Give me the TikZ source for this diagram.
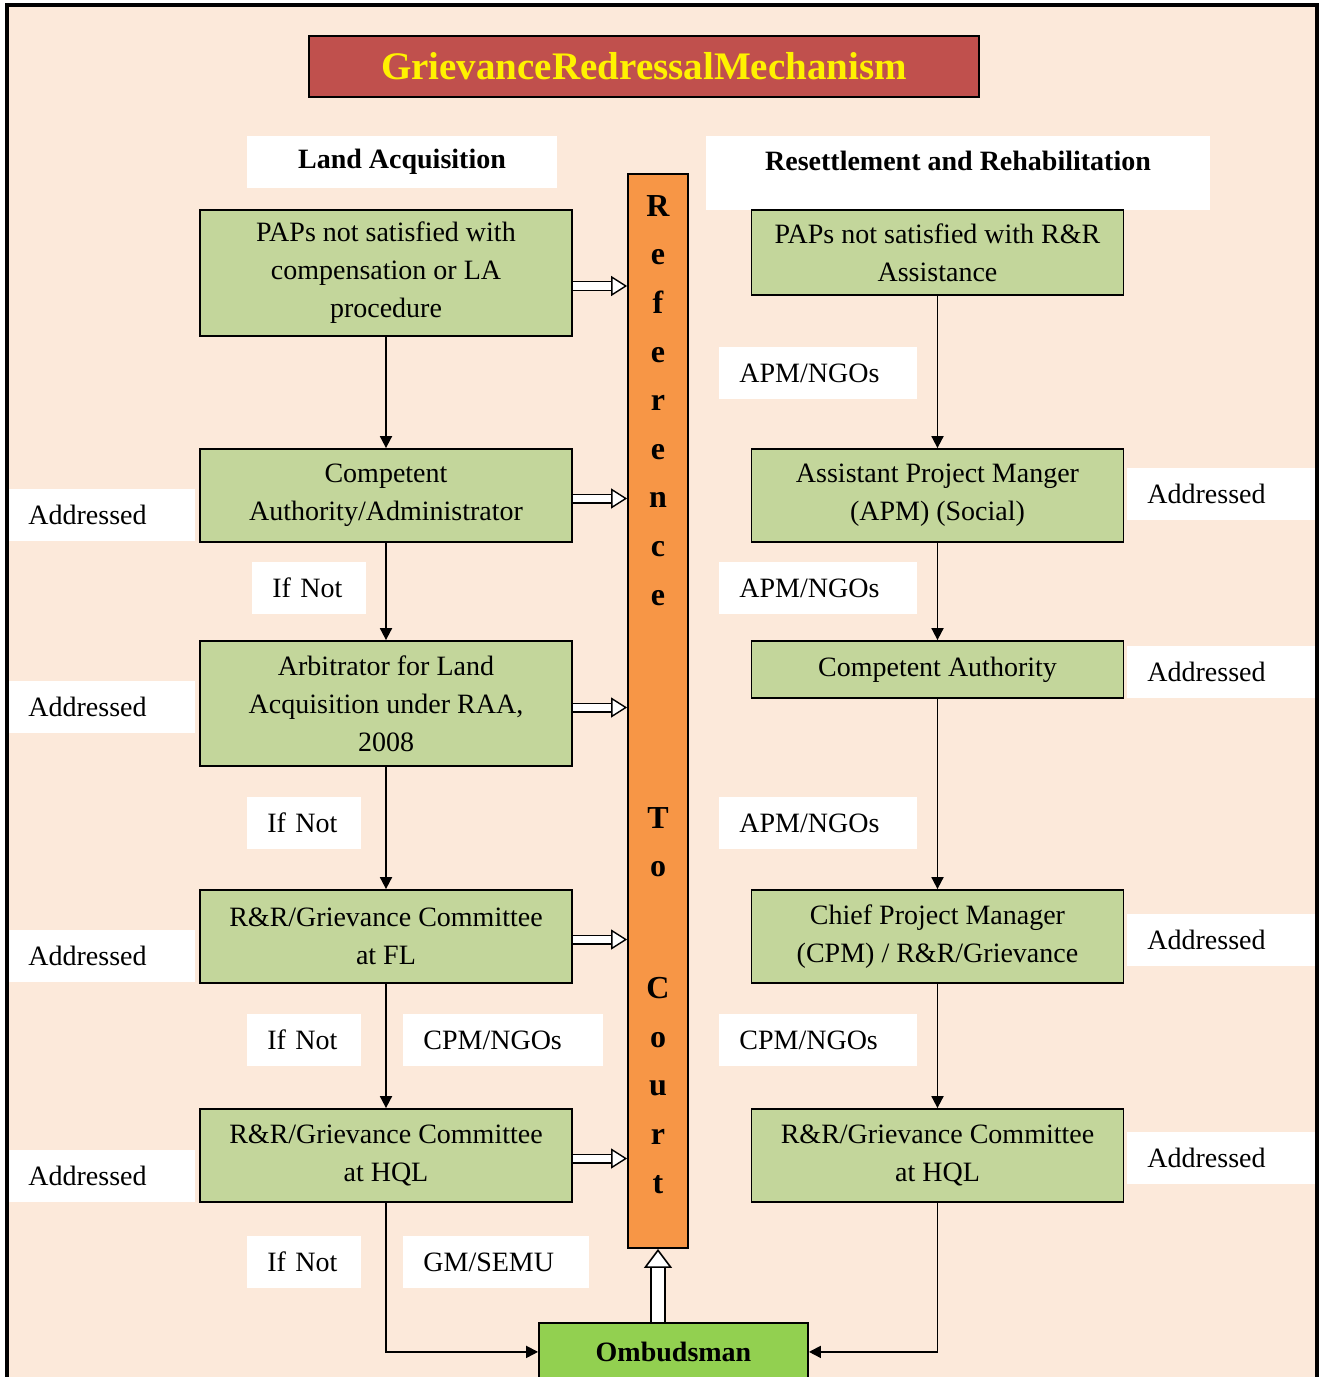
\documentclass[tikz,border=0pt]{standalone}
\usepackage{fontspec}
\setmainfont{Liberation Serif}
\usetikzlibrary{arrows.meta}
\definecolor{pagebg}{HTML}{FCE9DA}
\definecolor{boxgreen}{HTML}{C3D69B}
\definecolor{barorange}{HTML}{F79646}
\definecolor{titlered}{HTML}{C0504D}
\definecolor{ombgreen}{HTML}{92D050}
\begin{document}
\begin{tikzpicture}[x=0.5pt,y=-0.5pt,
        every node/.style={font=\fontsize{14}{19}\selectfont},
        box/.style={draw,line width=0.9pt,fill=boxgreen,minimum width=186pt,inner sep=2pt,align=center},
        tag/.style={fill=white,anchor=west,inner xsep=10pt,inner ysep=0pt,minimum height=26pt,align=left},
        barword/.style={anchor=north,align=center,inner sep=0pt,font=\bfseries\fontsize{16}{24.3}\selectfont}]
        \tikzset{flow/.style = {line width=0.9pt,-{Triangle[length=6pt,width=6pt]}}}
        \tikzset{hollow/.style = {double=white,double distance=3.6pt,line width=0.7pt,
                -{Triangle[fill=white,line width=0.7pt,length=8pt,width=10pt]}}}
        \tikzset{hollowup/.style = {double=white,double distance=6pt,line width=0.8pt,
                -{Triangle[fill=white,line width=0.8pt,length=9.5pt,width=14pt]}}}

        \useasboundingbox (0,0) rectangle (1321,1377);
        \fill[pagebg] (7,5) rectangle (1317,1377);

        \node[draw,line width=0.9pt,fill=titlered,text=yellow,minimum width=335pt,minimum height=30.5pt,
              font=\bfseries\fontsize{19.5}{23}\selectfont] (title) at (644,66.5) {GrievanceRedressalMechanism};
        \node[fill=white,minimum width=155pt,minimum height=26pt,font=\bfseries\fontsize{14}{17}\selectfont]
              (lahead) at (402,162) {Land Acquisition};
        \node[fill=white,anchor=north,inner sep=0pt,minimum width=252pt,text height=17pt,text depth=20pt,
              font=\bfseries\fontsize{14}{17}\selectfont] (rrhead) at (958,136) {Resettlement and Rehabilitation};

        \node[draw,line width=0.9pt,fill=barorange,minimum width=30pt,minimum height=537pt,inner sep=0pt] (bar) at (658,711) {};
        \node[barword] (wref) at (658,195) {R\\e\\f\\e\\r\\e\\n\\c\\e};
        \node[barword] (wto) at (658,807) {T\\o};
        \node[barword] (wcourt) at (658,977) {C\\o\\u\\r\\t};

        \node[box,minimum height=63pt] (la1) at (386,273) {PAPs not satisfied with\\compensation or LA\\procedure};
        \node[box,minimum height=46.5pt] (la2) at (386,495.5) {Competent\\Authority/Administrator};
        \node[box,minimum height=62.5pt] (la3) at (386,703.5) {Arbitrator for Land\\Acquisition under RAA,\\2008};
        \node[box,minimum height=46.5pt] (la4) at (386,936.5) {R\&R/Grievance Committee\\at FL};
        \node[box,minimum height=46.5pt] (la5) at (386,1155.5) {R\&R/Grievance Committee\\at HQL};

        \node[box,minimum height=42.5pt] (rr1) at (937.5,252.5) {PAPs not satisfied with R\&R\\Assistance};
        \node[box,minimum height=46.5pt] (rr2) at (937.5,495.5) {Assistant Project Manger\\(APM) (Social)};
        \node[box,minimum height=28.5pt] (rr3) at (937.5,669.5) {Competent Authority};
        \node[box,minimum height=46.5pt] (rr4) at (937.5,936.5) {Chief Project Manager\\(CPM) / R\&R/Grievance};
        \node[box,minimum height=46.5pt] (rr5) at (937.5,1155.5) {R\&R/Grievance Committee\\at HQL};

        \node[draw,line width=0.9pt,fill=ombgreen,anchor=north,minimum width=134.5pt,minimum height=29pt,
              font=\bfseries\fontsize{14}{17}\selectfont] (omb) at (673.5,1322) {Ombudsman};

        \node[tag,text width=73.5pt] (addl2) at (8,515) {Addressed};
        \node[tag,text width=73.5pt] (addl3) at (8,707) {Addressed};
        \node[tag,text width=73.5pt] (addl4) at (8,956) {Addressed};
        \node[tag,text width=73.5pt] (addl5) at (8,1176) {Addressed};
        \node[tag,text width=75.5pt] (addr2) at (1127,494) {Addressed};
        \node[tag,text width=75.5pt] (addr3) at (1127,672) {Addressed};
        \node[tag,text width=75.5pt] (addr4) at (1127,940) {Addressed};
        \node[tag,text width=75.5pt] (addr5) at (1127,1158) {Addressed};

        \node[tag,text width=37pt] (ifnot1) at (252,588) {If Not};
        \node[tag,text width=37pt] (ifnot2) at (247,823) {If Not};
        \node[tag,text width=37pt] (ifnot3) at (247,1040) {If Not};
        \node[tag,text width=37pt] (ifnot4) at (247,1262) {If Not};
        \node[tag,text width=80pt] (cpml) at (403,1040) {CPM/NGOs};
        \node[tag,text width=73pt] (gmsemu) at (403,1262) {GM/SEMU};
        \node[tag,text width=79pt] (apm1) at (719,373) {APM/NGOs};
        \node[tag,text width=79pt] (apm2) at (719,588) {APM/NGOs};
        \node[tag,text width=79pt] (apm3) at (719,823) {APM/NGOs};
        \node[tag,text width=79pt] (cpmr) at (719,1040) {CPM/NGOs};

        \draw[flow] (la1) -- (la2);
        \draw[flow] (la2) -- (la3);
        \draw[flow] (la3) -- (la4);
        \draw[flow] (la4) -- (la5);
        \draw[flow] (la5.south) |- (omb.west);

        \draw[flow] (rr1) -- (rr2);
        \draw[flow] (rr2) -- (rr3);
        \draw[flow] (rr3) -- (rr4);
        \draw[flow] (rr4) -- (rr5);
        \draw[flow] (rr5.south) |- (omb.east);

        \draw[hollow] ([yshift=-6.5pt]la1.east) -- ([yshift=-6.5pt]la1.east -| bar.west);
        \draw[hollow] ([yshift=-1.5pt]la2.east) -- ([yshift=-1.5pt]la2.east -| bar.west);
        \draw[hollow] ([yshift=-2pt]la3.east) -- ([yshift=-2pt]la3.east -| bar.west);
        \draw[hollow] ([yshift=-1.5pt]la4.east) -- ([yshift=-1.5pt]la4.east -| bar.west);
        \draw[hollow] ([yshift=-1.5pt]la5.east) -- ([yshift=-1.5pt]la5.east -| bar.west);
        \draw[hollowup] (omb.north -| bar.south) -- (bar.south);

        \draw[line width=1.6pt] (7,1380) -- (7,5) -- (1317,5) -- (1317,1380);
\end{tikzpicture}
\end{document}
